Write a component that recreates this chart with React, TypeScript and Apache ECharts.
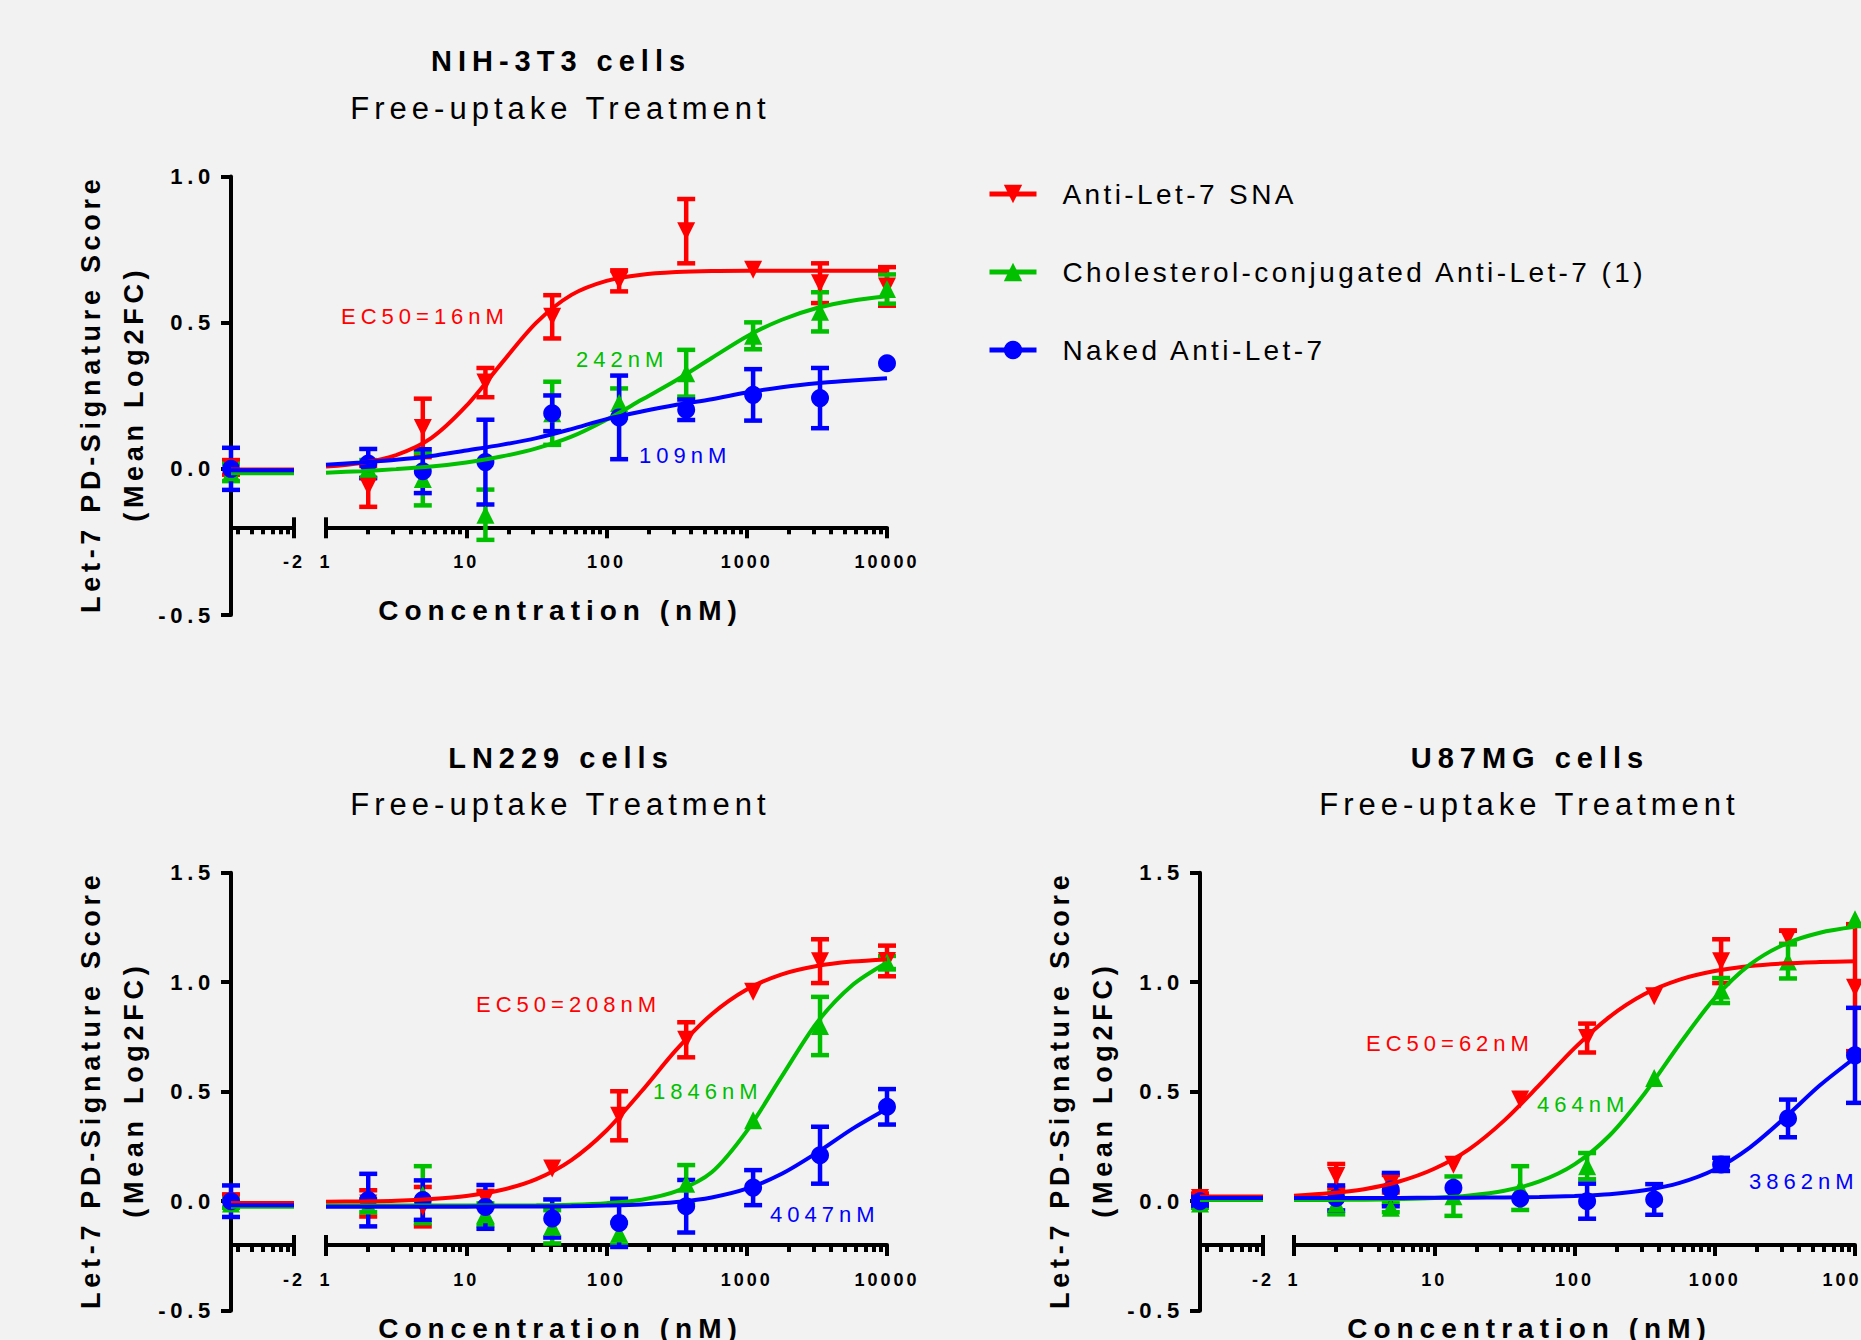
import React, { useEffect, useRef } from "react";
import * as echarts from "echarts";

// ---------------- data ----------------
const CONC_NM = [2, 4.9, 13.7, 41, 123, 370, 1110, 3330, 10000];
const CURVE_LOG10_X = [0, 0.25, 0.5, 0.75, 1, 1.25, 1.5, 1.75, 2, 2.25, 2.5, 2.75, 3, 3.25, 3.5, 3.75, 4];
const X_TICK_LABELS = ["1", "10", "100", "1000", "10000"];
const X_BREAK_LABEL = "-2";
const Y_TICKS_NIH = [-0.5, 0, 0.5, 1.0];
const Y_TICKS_GBM = [-0.5, 0, 0.5, 1.0, 1.5];
const COMPOUNDS = ["Anti-Let-7 SNA", "Cholesterol-conjugated Anti-Let-7 (1)", "Naked Anti-Let-7"];
const COLORS = ["#ff0000", "#00c000", "#0000ff"];

// NIH-3T3
const NIH_SNA_MEAN = [-0.06, 0.14, 0.295, 0.52, 0.643, 0.813, 0.681, 0.635, 0.624];
const NIH_SNA_ERR = [0.07, 0.1, 0.05, 0.074, 0.036, 0.11, 0, 0.068, 0.066];
const NIH_CHOL_MEAN = [0.0, -0.035, -0.157, 0.19, 0.225, 0.327, 0.455, 0.537, 0.615];
const NIH_CHOL_ERR = [0.03, 0.09, 0.086, 0.108, 0.05, 0.08, 0.046, 0.067, 0.05];
const NIH_NAKED_MEAN = [0.018, -0.008, 0.023, 0.19, 0.176, 0.202, 0.253, 0.242, 0.361];
const NIH_NAKED_ERR = [0.05, 0.075, 0.145, 0.061, 0.143, 0.035, 0.088, 0.103, 0];
const NIH_CTRL_MEAN = [0.005, -0.012, 0.0];
const NIH_CTRL_ERR = [0.025, 0.03, 0.072];
const NIH_BASE = [-0.002, -0.015, -0.005];
const NIH_SNA_FIT = [0.008, 0.02, 0.047, 0.105, 0.215, 0.36, 0.5, 0.595, 0.643, 0.664, 0.673, 0.677, 0.678, 0.678, 0.678, 0.678, 0.678];
const NIH_CHOL_FIT = [-0.013, -0.008, -0.001, 0.008, 0.022, 0.042, 0.07, 0.11, 0.168, 0.236, 0.304, 0.379, 0.453, 0.51, 0.55, 0.575, 0.59];
const NIH_NAKED_FIT = [0.014, 0.022, 0.031, 0.044, 0.063, 0.082, 0.105, 0.136, 0.17, 0.196, 0.219, 0.238, 0.261, 0.279, 0.293, 0.302, 0.31];
const NIH_NOTES = ["EC50=16nM", "242nM", "109nM"];

// LN229
const LN_SNA_MEAN = [-0.01, -0.025, 0.01, 0.149, 0.39, 0.737, 0.956, 1.096, 1.097];
const LN_SNA_ERR = [0.06, 0.09, 0.037, 0, 0.112, 0.08, 0, 0.1, 0.07];
const LN_CHOL_MEAN = [-0.02, 0.03, -0.06, -0.117, -0.148, 0.08, 0.37, 0.8, 1.09];
const LN_CHOL_ERR = [0.03, 0.13, 0.05, 0.076, 0.05, 0.085, 0, 0.133, 0.03];
const LN_NAKED_MEAN = [0.005, 0.005, -0.026, -0.079, -0.099, -0.023, 0.062, 0.21, 0.431];
const LN_NAKED_ERR = [0.12, 0.09, 0.1, 0.087, 0.11, 0.12, 0.08, 0.13, 0.081];
const LN_CTRL_MEAN = [0.0, -0.01, 0.0];
const LN_CTRL_ERR = [0.03, 0.02, 0.072];
const LN_BASE = [-0.008, -0.025, -0.018];
const LN_SNA_FIT = [-0.003, -0.001, 0.002, 0.01, 0.024, 0.051, 0.101, 0.188, 0.323, 0.502, 0.693, 0.854, 0.967, 1.036, 1.074, 1.094, 1.104];
const LN_CHOL_FIT = [-0.02, -0.02, -0.02, -0.02, -0.02, -0.02, -0.019, -0.016, -0.009, 0.007, 0.046, 0.132, 0.32, 0.57, 0.815, 0.985, 1.09];
const LN_NAKED_FIT = [-0.025, -0.025, -0.025, -0.025, -0.025, -0.024, -0.024, -0.023, -0.02, -0.015, -0.004, 0.017, 0.057, 0.125, 0.221, 0.329, 0.422];
const LN_NOTES = ["EC50=208nM", "1846nM", "4047nM"];

// U87MG
const U87_SNA_MEAN = [0.115, 0.08, 0.167, 0.464, 0.745, 0.936, 1.096, 1.205, 0.975];
const U87_SNA_ERR = [0.055, 0.04, 0, 0, 0.066, 0, 0.1, 0.03, 0.29];
const U87_CHOL_MEAN = [-0.01, -0.03, 0.023, 0.06, 0.16, 0.563, 0.962, 1.095, 1.288];
const U87_CHOL_ERR = [0.05, 0.02, 0.09, 0.1, 0.06, 0, 0.057, 0.078, 0];
const U87_NAKED_MEAN = [0.015, 0.053, 0.061, 0.012, 0.0, 0.008, 0.168, 0.378, 0.666];
const U87_NAKED_ERR = [0.057, 0.076, 0, 0, 0.08, 0.07, 0.03, 0.086, 0.217];
const U87_CTRL_MEAN = [0.015, -0.01, 0.0];
const U87_CTRL_ERR = [0.02, 0.02, 0.02];
const U87_BASE = [0.022, 0.005, 0.015];
const U87_SNA_FIT = [0.025, 0.036, 0.055, 0.09, 0.148, 0.238, 0.369, 0.531, 0.699, 0.842, 0.946, 1.012, 1.051, 1.074, 1.086, 1.092, 1.096];
const U87_CHOL_FIT = [0.006, 0.006, 0.007, 0.01, 0.015, 0.026, 0.048, 0.09, 0.168, 0.3, 0.492, 0.718, 0.927, 1.08, 1.174, 1.226, 1.253];
const U87_NAKED_FIT = [0.015, 0.015, 0.015, 0.015, 0.016, 0.016, 0.017, 0.019, 0.024, 0.032, 0.05, 0.084, 0.145, 0.245, 0.381, 0.529, 0.655];
const U87_NOTES = ["EC50=62nM", "464nM", "3862nM"];

// ---------------- layout ----------------
const LEFT_W = 63;
const RIGHT_W = 561;
const DECADE = RIGHT_W / 4;
const LMIN = -2 - LEFT_W / DECADE; // log10 position of the zero-dose point (at the y axis)
const X_AXIS_AT = -0.2;

const PANELS = [
  {
    title: "NIH-3T3 cells", axisX: 231, rLeft: 326, top: 176.5, height: 438.5, yTicks: Y_TICKS_NIH,
    ctrlMean: NIH_CTRL_MEAN, ctrlErr: NIH_CTRL_ERR, base: NIH_BASE,
    means: [NIH_SNA_MEAN, NIH_CHOL_MEAN, NIH_NAKED_MEAN], errs: [NIH_SNA_ERR, NIH_CHOL_ERR, NIH_NAKED_ERR],
    fits: [NIH_SNA_FIT, NIH_CHOL_FIT, NIH_NAKED_FIT], notes: NIH_NOTES,
    notePos: [[341, 316.6], [576, 359], [639, 455]],
  },
  {
    title: "LN229 cells", axisX: 231, rLeft: 326, top: 872.7, height: 438, yTicks: Y_TICKS_GBM,
    ctrlMean: LN_CTRL_MEAN, ctrlErr: LN_CTRL_ERR, base: LN_BASE,
    means: [LN_SNA_MEAN, LN_CHOL_MEAN, LN_NAKED_MEAN], errs: [LN_SNA_ERR, LN_CHOL_ERR, LN_NAKED_ERR],
    fits: [LN_SNA_FIT, LN_CHOL_FIT, LN_NAKED_FIT], notes: LN_NOTES,
    notePos: [[476, 1004.5], [653, 1091], [770, 1214.7]],
  },
  {
    title: "U87MG cells", axisX: 1200, rLeft: 1294, top: 872.7, height: 438, yTicks: Y_TICKS_GBM,
    ctrlMean: U87_CTRL_MEAN, ctrlErr: U87_CTRL_ERR, base: U87_BASE,
    means: [U87_SNA_MEAN, U87_CHOL_MEAN, U87_NAKED_MEAN], errs: [U87_SNA_ERR, U87_CHOL_ERR, U87_NAKED_ERR],
    fits: [U87_SNA_FIT, U87_CHOL_FIT, U87_NAKED_FIT], notes: U87_NOTES,
    notePos: [[1366, 1043.3], [1537, 1104], [1749, 1181.5]],
  },
];

const FF = (tag: string) => `Liberation Sans, ${tag}`;
const BLACK = "#000000";

const MINOR_R: number[] = [];
for (let d = 0; d < 4; d++) for (let k = 2; k <= 9; k++) MINOR_R.push(d + Math.log10(k));
const MINOR_L: number[] = [];
for (let k = 2; k <= 9; k++) {
  const v = -3 + Math.log10(k);
  if (v > LMIN) MINOR_L.push(v);
}

const errRender = (color: string) => (params: any, api: any) => {
  const x = api.value(0);
  const y = api.value(1);
  const e = api.value(2);
  if (!e) return { type: "group", children: [] };
  const t = api.coord([x, y + e]);
  const b = api.coord([x, y - e]);
  const hw = 9;
  const style = { stroke: color, lineWidth: 4.5, fill: null };
  return {
    type: "group",
    children: [
      { type: "line", shape: { x1: t[0], y1: t[1], x2: b[0], y2: b[1] }, style },
      { type: "line", shape: { x1: t[0] - hw, y1: t[1], x2: t[0] + hw, y2: t[1] }, style },
      { type: "line", shape: { x1: b[0] - hw, y1: b[1], x2: b[0] + hw, y2: b[1] }, style },
    ],
  };
};

function buildOption() {
  const grid: any[] = [];
  const xAxis: any[] = [];
  const yAxis: any[] = [];
  const series: any[] = [];
  const texts: any[] = [];

  PANELS.forEach((p, pi) => {
    const yMin = p.yTicks[0];
    const yMax = p.yTicks[p.yTicks.length - 1];
    const offset = -p.height * ((X_AXIS_AT - yMin) / (yMax - yMin));
    const gL = 2 * pi;
    const gR = 2 * pi + 1;
    grid.push({ left: p.axisX, top: p.top, width: LEFT_W, height: p.height, outerBoundsMode: "none", containLabel: false });
    grid.push({ left: p.rLeft, top: p.top, width: RIGHT_W, height: p.height, outerBoundsMode: "none", containLabel: false });

    [gL, gR].forEach((g) => {
      const isLeft = g === gL;
      const common = {
        gridIndex: g, type: "value", min: isLeft ? LMIN : 0, max: isLeft ? -2 : 4,
        position: "bottom", offset, splitLine: { show: false },
      };
      const tickStyle = { color: BLACK, width: 4 };
      xAxis.push({
        ...common,
        ...(isLeft ? {} : { interval: 1 }),
        axisLine: { show: true, onZero: false, lineStyle: { color: BLACK, width: 4 } },
        axisTick: { show: true, length: 11, lineStyle: tickStyle, ...(isLeft ? { customValues: [-2] } : {}) },
        axisLabel: {
          show: true, margin: 26, color: BLACK, fontSize: 18, fontWeight: "bold", fontFamily: FF("zzxtick"),
          formatter: (v: number) => (isLeft ? X_BREAK_LABEL : X_TICK_LABELS[Math.round(v)]),
          ...(isLeft ? { customValues: [-2] } : {}),
        },
      });
      xAxis.push({
        ...common,
        axisLine: { show: false, onZero: false },
        axisTick: { show: true, length: 7, lineStyle: tickStyle, customValues: isLeft ? MINOR_L : MINOR_R },
        axisLabel: { show: false },
      });
      xAxis.push({
        ...common,
        axisLine: { show: false, onZero: false },
        axisTick: { show: true, inside: true, length: 10, lineStyle: tickStyle, customValues: [isLeft ? -2 : 0] },
        axisLabel: { show: false },
      });
    });

    yAxis.push({
      gridIndex: gL, type: "value", min: yMin, max: yMax, interval: 0.5, position: "left",
      axisLine: { show: true, onZero: false, lineStyle: { color: BLACK, width: 4 } },
      axisTick: { show: true, length: 10, lineStyle: { color: BLACK, width: 4 } },
      axisLabel: {
        margin: 16, color: BLACK, fontSize: 22, fontWeight: "bold", fontFamily: FF("zzytick"),
        formatter: (v: number) => v.toFixed(1),
      },
      splitLine: { show: false },
    });
    yAxis.push({ gridIndex: gR, type: "value", min: yMin, max: yMax, interval: 0.5, show: false });

    const axL = { xAxisIndex: 3 * gL, yAxisIndex: gL };
    const axR = { xAxisIndex: 3 * gR, yAxisIndex: gR };

    COMPOUNDS.forEach((name, c) => {
      const color = COLORS[c];
      const symbol = c === 2 ? "circle" : "triangle";
      const symbolRotate = c === 0 ? 180 : 0;
      const lineCommon = {
        type: "line", name, showSymbol: false, symbol, symbolRotate, symbolSize: 18,
        lineStyle: { color, width: 4 }, itemStyle: { color }, emphasis: { disabled: true }, silent: true,
      };
      series.push({ ...lineCommon, ...axL, data: [[LMIN, p.base[c]], [-2, p.base[c]]] });
      series.push({
        ...lineCommon, ...axR, smooth: 0.3,
        data: CURVE_LOG10_X.map((x, i) => [x, p.fits[c][i]]),
      });
      series.push({
        type: "custom", name, ...axL, clip: false, silent: true, encode: { x: 0, y: 1 },
        renderItem: errRender(color), data: [[LMIN, p.ctrlMean[c], p.ctrlErr[c]]],
      });
      series.push({
        type: "custom", name, ...axR, clip: false, silent: true, encode: { x: 0, y: 1 },
        renderItem: errRender(color),
        data: CONC_NM.map((x, i) => [Math.log10(x), p.means[c][i], p.errs[c][i]]),
      });
      const scatterCommon = {
        type: "scatter", name, symbol, symbolRotate, symbolSize: 18, clip: false, silent: true,
        itemStyle: { color, opacity: 1 }, emphasis: { disabled: true },
      };
      series.push({ ...scatterCommon, ...axL, data: [[LMIN, p.ctrlMean[c]]] });
      series.push({ ...scatterCommon, ...axR, data: CONC_NM.map((x, i) => [Math.log10(x), p.means[c][i]]) });

      const [nx, ny] = p.notePos[c];
      texts.push({
        type: "text", x: nx, y: ny, silent: true,
        style: {
          text: p.notes[c], fill: color, fontSize: 22, fontFamily: FF("zznote"),
          align: "left", textAlign: "left", verticalAlign: "middle", textVerticalAlign: "middle",
        },
      });
    });

    const cx = p.axisX + 327;
    const axisLineY = p.top + p.height * ((yMax - X_AXIS_AT) / (yMax - yMin));
    const centerText = (text: string, x: number, y: number, size: number, bold: boolean, tag: string, rot = 0) => ({
      type: "text", x, y, rotation: rot, silent: true,
      style: {
        text, fill: BLACK, fontSize: size, fontWeight: bold ? "bold" : "normal", fontFamily: FF(tag),
        align: "center", textAlign: "center", verticalAlign: "middle", textVerticalAlign: "middle",
      },
    });
    texts.push(centerText(p.title, cx + 3, p.top - 115.2, 29, true, "zztitle"));
    texts.push(centerText("Free-uptake Treatment", cx + 2.5, p.top - 68, 31, false, "zzsub"));
    texts.push(centerText("Let-7 PD-Signature Score", p.axisX - 140.5, p.top + p.height / 2 - 2, 27, true, "zzyname", Math.PI / 2));
    texts.push(centerText("(Mean Log2FC)", p.axisX - 97.5, p.top + p.height / 2 - 2, 27, true, "zzyname", Math.PI / 2));
    texts.push(centerText("Concentration (nM)", p.axisX + 329.5, axisLineY + 83.5, 28, true, "zzxname"));
  });

  return {
    animation: false,
    backgroundColor: "#f2f2f2",
    grid,
    xAxis,
    yAxis,
    series,
    legend: {
      data: COMPOUNDS,
      orient: "vertical",
      left: 987,
      top: 180,
      padding: 0,
      itemWidth: 47,
      itemHeight: 23,
      itemGap: 50,
      selectedMode: false,
      lineStyle: { width: 5 },
      textStyle: { fontSize: 28, color: BLACK, fontFamily: FF("zzlegend"), padding: [0, 0, 0, 21] },
    },
    graphic: { elements: texts },
  };
}

const CSS = `
.ec-root text[style*="zztitle"]{letter-spacing:6px}
.ec-root text[style*="zzsub"]{letter-spacing:5px}
.ec-root text[style*="zzytick"]{letter-spacing:4.7px}
.ec-root text[style*="zzxtick"]{letter-spacing:3px}
.ec-root text[style*="zzyname"]{letter-spacing:4.7px}
.ec-root text[style*="zzxname"]{letter-spacing:6px}
.ec-root text[style*="zzlegend"]{letter-spacing:3.4px}
.ec-root text[style*="zznote"]{letter-spacing:5px}
`;

export default function App() {
  const ref = useRef<HTMLDivElement>(null);
  useEffect(() => {
    if (!ref.current) return;
    const chart = echarts.init(ref.current, null, { renderer: "svg" });
    chart.setOption(buildOption() as any);
    return () => chart.dispose();
  }, []);
  return (
    <div style={{ position: "fixed", left: 0, top: 0, width: 1861, height: 1340, overflow: "hidden", background: "#f2f2f2" }}>
      <style>{CSS}</style>
      <div ref={ref} className="ec-root" style={{ width: 1861, height: 1340 }} />
    </div>
  );
}
